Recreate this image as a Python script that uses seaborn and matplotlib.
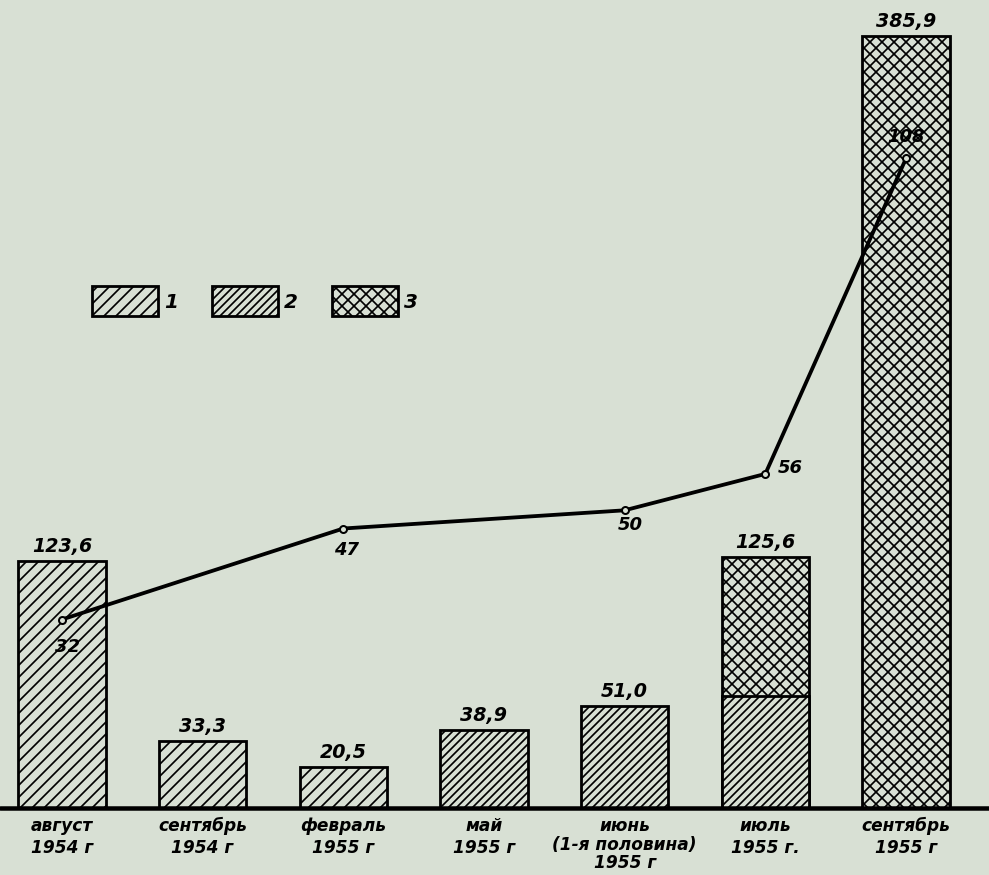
import matplotlib
matplotlib.use("Agg")
import matplotlib.pyplot as plt
from matplotlib.patches import Patch
import seaborn as sns
import numpy as np

# ---- data ----
categories = ["август\n1954 г", "сентябрь\n1954 г", "февраль\n1955 г", "май\n1955 г",
              "июнь\n(1-я половина)\n1955 г", "июль\n1955 г.", "сентябрь\n1955 г"]
totals = [123.6, 33.3, 20.5, 38.9, 51.0, 125.6, 385.9]
value_labels = ["123,6", "33,3", "20,5", "38,9", "51,0", "125,6", "385,9"]
bar_types = [1, 1, 1, 2, 2, 3, 3]
lower_part = [0, 0, 0, 0, 0, 56, 0]       # July: type 2 portion under type 3
lower_type = 2
line_cats = [0, 2, 4, 5, 6]              # category indices of line points
line_values = [32, 47, 50, 56, 108]
legend_labels = ["1", "2", "3"]

# ---- style ----
BG = "#d8e0d4"
HATCH = {1: "//", 2: "///", 3: "xx"}
DPI = 72
sns.set_style("white")
plt.rcParams["font.family"] = ["DejaVu Sans"]
plt.rcParams["text.color"] = "black"
plt.rcParams["xtick.color"] = "black"
plt.rcParams["xtick.labelcolor"] = "black"
plt.rcParams["hatch.linewidth"] = 1.7
plt.rcParams["hatch.color"] = "black"

fig = plt.figure(figsize=(989 / DPI, 875 / DPI), dpi=DPI, facecolor=BG)
ax = fig.add_axes([0.0, 67 / 875, 1.0, 800 / 875])
ax.set_facecolor(BG)

sns.barplot(x=categories, y=totals, ax=ax, color=BG, edgecolor="black",
            linewidth=2.8, width=0.62, saturation=1)
for p, t in zip(ax.patches, bar_types):
    p.set_hatch(HATCH[t])
n0 = len(ax.patches)
sns.barplot(x=categories, y=lower_part, ax=ax, color=BG, edgecolor="black",
            linewidth=2.8, width=0.62, saturation=1)
for p, v in zip(ax.patches[n0:], lower_part):
    if v > 0:
        p.set_hatch(HATCH[lower_type])
    else:
        p.set_visible(False)

ax.set_xlim(-0.44, 6.59)
ax.set_ylim(0, 400)
ax.axhline(0, color="black", lw=4.5, zorder=5, clip_on=False)
for s in ax.spines.values():
    s.set_visible(False)
ax.set_yticks([])
ax.tick_params(axis="x", length=0, pad=9)
for lbl in ax.get_xticklabels():
    lbl.set_fontsize(17)
    lbl.set_fontstyle("italic")
    lbl.set_fontweight("bold")
    n_lines = lbl.get_text().count("\n") + 1
    lbl.set_linespacing(1.3 if n_lines < 3 else 1.05)

for i, (v, s) in enumerate(zip(totals, value_labels)):
    ax.annotate(s, (i, v), xytext=(0, 5), textcoords="offset points",
                ha="center", va="bottom", fontsize=19, fontstyle="italic",
                fontweight="bold")

# legend
handles = [Patch(facecolor=BG, edgecolor="black", hatch=HATCH[t], linewidth=2.8)
           for t in (1, 2, 3)]
leg = ax.legend(handles, legend_labels, ncol=3, loc="upper left",
                bbox_to_anchor=(0.093, 0.652), frameon=False, fontsize=20,
                handlelength=3.3, handleheight=1.9, handletextpad=0.3,
                columnspacing=1.7, borderpad=0, borderaxespad=0)
for t in leg.get_texts():
    t.set_fontstyle("italic")
    t.set_fontweight("bold")

# line on twin axis
ax2 = ax.twinx()
ax2.set_ylim(0.93, 132.8)
sns.lineplot(x=line_cats, y=line_values, ax=ax2, color="black", lw=3.8,
             marker="o", markersize=7, markerfacecolor=BG,
             markeredgecolor="black", markeredgewidth=2)
ax2.set_xlim(-0.44, 6.59)
ax2.set_yticks([])
for s in ax2.spines.values():
    s.set_visible(False)
offsets = [(6, -18, "center", "top"), (3, -12, "center", "top"),
           (6, -6, "center", "top"), (12, 6, "left", "center"),
           (0, 12, "center", "bottom")]
for x, v, (dx, dy, ha, va) in zip(line_cats, line_values, offsets):
    ax2.annotate(str(v), (x, v), xytext=(dx, dy), textcoords="offset points",
                 ha=ha, va=va, fontsize=18, fontstyle="italic",
                 fontweight="bold")

fig.savefig("out.png", dpi=DPI, facecolor=BG)
